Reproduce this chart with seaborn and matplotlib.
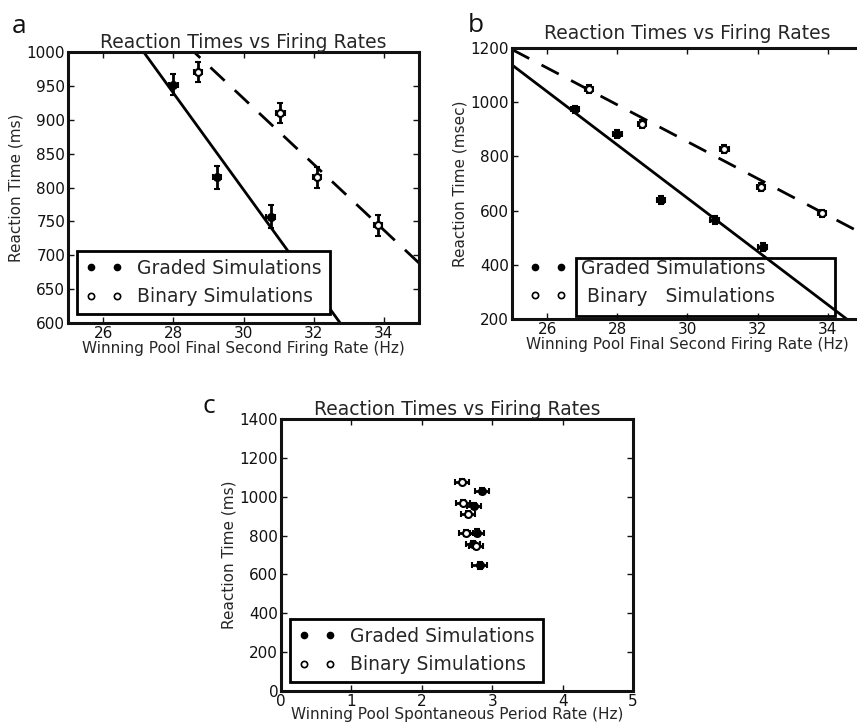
import numpy as np
import seaborn as sns
import matplotlib
matplotlib.use("Agg")
import matplotlib.pyplot as plt
from matplotlib.lines import Line2D
from matplotlib.patches import Rectangle

# final-second firing rates (Hz), shared by panels a and b
graded_rate = [26.8, 28.0, 29.25, 30.77, 32.14]
binary_rate = [27.2, 28.7, 31.05, 32.1, 33.84]
rate_err = [0.12, 0.12, 0.12, 0.12, 0.12]

# panel a / c reaction times (ms)
graded_rt = [1031, 952, 815, 757, 646]
binary_rt = [1078, 970, 910, 815, 744]
graded_rt_err = [16, 16, 17, 17, 16]
binary_rt_err = [15, 15, 15, 15, 15]

# panel b reaction times (msec)
graded_rt_b = [973, 883, 639, 566, 467]
binary_rt_b = [1049, 920, 826, 688, 590]
rt_err_b = [14, 14, 14, 14, 14]

# panel c spontaneous period rates (Hz)
graded_spont = [2.86, 2.74, 2.79, 2.73, 2.82]
binary_spont = [2.57, 2.59, 2.65, 2.63, 2.77]
spont_err = [0.1, 0.1, 0.1, 0.1, 0.1]

title = "Reaction Times vs Firing Rates"
xlab_final = "Winning Pool Final Second Firing Rate (Hz)"
xlab_spont = "Winning Pool Spontaneous Period Rate (Hz)"

sns.set_style("ticks", {"xtick.direction": "in", "ytick.direction": "in"})
plt.rcParams["font.family"] = ["DejaVu Sans"]
plt.rcParams["axes.linewidth"] = 2.2
plt.rcParams["legend.fontsize"] = 13.5


def style_axes(ax):
    ax.tick_params(which="both", top=True, right=True, length=4, width=1,
                   labelsize=11, pad=2, colors="#111111")
    for sp in ax.spines.values():
        sp.set_visible(True)
        sp.set_color("#111111")


def points(ax, x, y, xerr, yerr, filled):
    ax.errorbar(x, y, xerr=xerr, yerr=yerr, fmt="o", ms=5,
                mfc="k" if filled else "white", mec="k", mew=1.5,
                ecolor="k", elinewidth=2, capsize=2.5, capthick=1.5,
                zorder=3, clip_on=True)


def fit_line(ax, x, y, dashed):
    sns.regplot(x=x, y=y, ax=ax, ci=None, scatter=False, truncate=False,
                line_kws=dict(color="k", lw=2,
                              ls=(0, (7, 5)) if dashed else "-"))


handles = [Line2D([], [], ls="none", marker="o", ms=4.5, mfc="k", mec="k"),
           Line2D([], [], ls="none", marker="o", ms=4.5, mfc="white", mec="k", mew=1.2)]

fig = plt.figure(figsize=(8.57, 7.24), dpi=100)

# ---- panel a
ax1 = fig.add_axes([68 / 857, 1 - 323 / 724, 351 / 857, 271 / 724])
ax1.set_xlim(25, 35)
ax1.set_ylim(600, 1000)
fit_line(ax1, graded_rate, graded_rt, False)
fit_line(ax1, binary_rate, binary_rt, True)
points(ax1, graded_rate, graded_rt, rate_err, graded_rt_err, True)
points(ax1, binary_rate, binary_rt, rate_err, binary_rt_err, False)
ax1.set_xlim(25, 35)
ax1.set_ylim(600, 1000)
ax1.set_xticks([26, 28, 30, 32, 34])
ax1.set_yticks(range(600, 1001, 50))
ax1.set_title(title, fontsize=13.5, pad=2)
ax1.set_xlabel(xlab_final, fontsize=11, labelpad=0)
ax1.set_ylabel("Reaction Time (ms)", fontsize=11, labelpad=2)
style_axes(ax1)
leg = ax1.legend(handles, ["Graded Simulations", "Binary Simulations"],
                 loc="lower left", numpoints=2, fancybox=False, framealpha=1,
                 edgecolor="k")
leg.get_frame().set_linewidth(2)

# ---- panel b (runs off the right edge of the figure)
ax2 = fig.add_axes([512 / 857, 1 - 319.3 / 724, 351 / 857, 271.6 / 724])
ax2.set_xlim(25, 35)
ax2.set_ylim(200, 1200)
fit_line(ax2, graded_rate, graded_rt_b, False)
fit_line(ax2, binary_rate, binary_rt_b, True)
points(ax2, graded_rate, graded_rt_b, rate_err, rt_err_b, True)
points(ax2, binary_rate, binary_rt_b, rate_err, rt_err_b, False)
ax2.set_xlim(25, 35)
ax2.set_ylim(200, 1200)
ax2.set_xticks([26, 28, 30, 32, 34])
ax2.set_yticks(range(200, 1201, 200))
ax2.set_title(title, fontsize=13.5, pad=6)
ax2.set_xlabel(xlab_final, fontsize=11, labelpad=0)
ax2.set_ylabel("Reaction Time (msec)", fontsize=11, labelpad=2)
style_axes(ax2)
leg2 = ax2.legend(handles, ["Graded Simulations", " Binary   Simulations"],
                  loc="lower left", numpoints=2, frameon=False,
                  bbox_to_anchor=(0.0, -0.013))
ax2.add_patch(Rectangle((0.182, 0.012), 0.738, 0.214, transform=ax2.transAxes,
                        fill=False, ec="k", lw=2, zorder=5, clip_on=False))

# ---- panel c
ax3 = fig.add_axes([281 / 857, 1 - 691 / 724, 352 / 857, 272 / 724])
points(ax3, graded_spont, graded_rt, spont_err, graded_rt_err, True)
points(ax3, binary_spont, binary_rt, spont_err, binary_rt_err, False)
ax3.set_xlim(0, 5)
ax3.set_ylim(0, 1400)
ax3.set_xticks(range(0, 6))
ax3.set_yticks(range(0, 1401, 200))
ax3.set_title(title, fontsize=13.5, pad=3)
ax3.set_xlabel(xlab_spont, fontsize=11, labelpad=-1)
ax3.set_ylabel("Reaction Time (ms)", fontsize=11, labelpad=2)
style_axes(ax3)
leg3 = ax3.legend(handles, ["Graded Simulations", "Binary Simulations"],
                  loc="lower left", numpoints=2, fancybox=False, framealpha=1,
                  edgecolor="k")
leg3.get_frame().set_linewidth(2)

# panel letters
for txt, px, py in [("a", 12, 33), ("b", 468, 32), ("c", 203, 413)]:
    fig.text(px / 857, 1 - py / 724, txt, fontsize=19, family="Open Sans",
             va="baseline", color="#111111")

fig.savefig("out.png", dpi=100)
